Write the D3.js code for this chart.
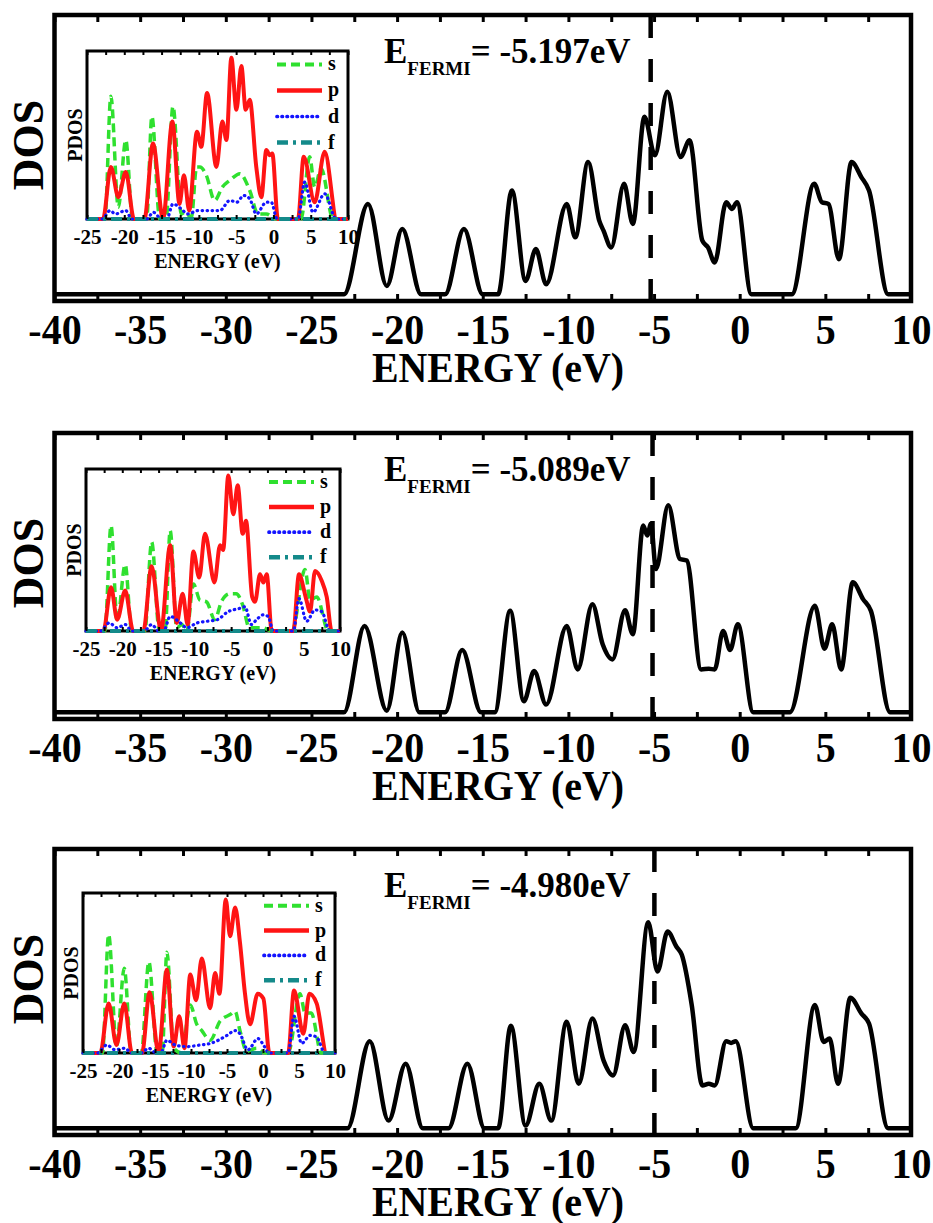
<!DOCTYPE html>
<html>
<head>
<meta charset="utf-8">
<script src="https://cdn.jsdelivr.net/npm/d3@7"></script>
<style>
  body { margin: 0; background: #fff; }
  svg text { font-family: "Liberation Serif", "Times New Roman", serif; font-weight: bold; fill: #000; }
</style>
</head>
<body>
<div id="chart"></div>
<script>
// Fermi levels of the three structures (eV)
const fermiLevels = [-5.197, -5.089, -4.980];

// total DOS, [energy (eV), DOS (a.u.)]
const dosTop = [[-40,0],[-23.1,0],[-21.7,27],[-20.6,2.5],[-19.7,19.5],[-18.6,0],[-17.2,0],[-16.1,19.5],[-15,0],[-14.1,0],[-13.3,31],[-12.5,4],[-11.9,13.5],[-11.3,3],[-10.1,27],[-9.6,17],[-8.85,39.5],[-8.2,22],[-7.95,19],[-7.5,14],[-6.75,33],[-6.24,21],[-5.56,53],[-4.95,41.5],[-4.23,60.5],[-3.45,41],[-2.93,46],[-2.18,16],[-1.85,14],[-1.46,9.5],[-0.79,27.5],[-0.45,25.5],[-0.16,27.5],[0.68,0],[3.04,0],[4.35,33],[4.8,27.5],[5.18,27],[5.79,10.5],[6.53,39.5],[7.1,35],[7.55,31],[8.67,0],[10,0]];
const dosMid = [[-40,0],[-23.1,0],[-21.9,25.8],[-20.6,0.5],[-19.7,23.8],[-18.7,0],[-17.2,0],[-16.2,18.6],[-15.1,0],[-14.3,0],[-13.4,30.3],[-12.6,3.3],[-12.0,12.3],[-11.3,2.3],[-10.1,25.8],[-9.46,12.8],[-8.6,32.3],[-8.0,20.3],[-7.43,15.8],[-6.69,30.5],[-6.24,23.3],[-5.63,55.8],[-5.4,52.8],[-5.18,56.3],[-4.89,42.8],[-4.17,61.8],[-3.49,45.8],[-3.09,45.3],[-2.25,12.8],[-1.8,13],[-1.46,12.8],[-0.97,24.3],[-0.56,18.6],[-0.11,26.3],[0.79,0],[2.93,0],[4.39,31.8],[4.95,19],[5.4,26.3],[5.92,12.8],[6.6,38.8],[7.2,33.8],[7.66,30.3],[8.78,0],[10,0]];
const dosBot = [[-40,0],[-22.9,0],[-21.6,26],[-20.5,2.3],[-19.5,19.3],[-18.5,0],[-17.0,0],[-15.9,19.3],[-14.9,0],[-14.1,0],[-13.36,30.6],[-12.5,0.8],[-11.7,13.3],[-11.0,2.3],[-10.1,31.8],[-9.4,13.3],[-8.6,32.8],[-7.95,20.3],[-7.39,15.8],[-6.69,30.8],[-6.19,22.8],[-5.34,61.5],[-4.8,46.8],[-4.21,58.8],[-3.7,54.3],[-3.38,51.8],[-2.8,36.8],[-2.18,12.8],[-1.8,13.3],[-1.46,12.8],[-0.79,26],[-0.5,25.5],[-0.23,26],[0.79,0],[3.27,0],[4.39,36.8],[4.9,25.8],[5.25,26.8],[5.74,13.3],[6.46,39],[7.1,34.3],[7.55,31.3],[8.67,0],[10,0]];

// partial DOS for the insets (s, p, d, f)
const sTop = [[-25,0],[-22.6,0],[-21.8,73],[-20.8,7],[-19.8,47],[-18.9,0],[-17.0,0],[-16.3,61],[-15.25,0],[-14.4,0],[-13.47,67],[-12.35,3],[-11.9,4],[-11.0,1],[-10.3,31],[-9.85,31],[-9.0,26],[-7.88,11],[-6.85,19],[-5.85,23],[-4.5,27],[-3.18,17],[-2.07,3],[-0.95,3],[0.4,0],[3.7,0],[4.86,37],[5.53,19],[6.4,30],[8.0,0],[10,0]];
const pTop = [[-25,0],[-22.85,0],[-21.8,31],[-20.8,13],[-19.8,28],[-18.7,0],[-17.3,0],[-16.15,45],[-14.8,0],[-13.55,58],[-12.6,9],[-12.0,26],[-11.3,5],[-10.25,52],[-9.67,43],[-8.9,75],[-7.65,31],[-6.85,58],[-6.3,47],[-5.64,96],[-4.97,65],[-4.3,91],[-3.72,65],[-3.18,71],[-2.3,31],[-1.62,13],[-0.95,41],[-0.5,38],[-0.15,39],[0.6,0],[3.3,0],[4.06,37],[5.53,10],[6.87,40],[8.5,0],[10,0]];
const dTop = [[-25,0],[-23,0],[-21.9,5],[-21.2,3],[-19.8,5],[-19.0,0],[-17.0,0],[-16.1,4],[-15.0,0],[-14.3,0],[-13.47,9],[-12.35,6],[-11.5,3],[-10.1,5],[-8.5,5],[-7.2,5],[-5.85,11],[-4.9,10],[-4.0,14],[-3.18,12],[-2.3,3],[-0.95,10],[-0.3,10],[0.5,0],[3.3,0],[4.2,22],[5.3,4],[6.87,15],[8.4,0],[10,0]];
const fTop = [[-25,0],[10,0]];

const sMid = [[-25,0],[-22.4,0],[-21.55,65],[-20.7,6],[-19.6,41],[-18.7,0],[-16.9,0],[-15.95,55],[-14.9,0],[-14.1,0],[-13.4,62],[-12.5,2],[-11.8,4],[-11.1,0],[-10.2,29],[-9.3,19],[-8.4,18],[-7.25,7],[-6.35,18],[-5.2,23],[-4.3,23],[-3.4,16],[-2.5,2],[-0.6,2],[0.5,0],[3.4,0],[5.18,38],[5.87,19],[6.8,21],[8.4,0],[10,0]];
const pMid = [[-25,0],[-22.6,0],[-21.55,27],[-20.7,7],[-19.6,25],[-18.5,0],[-17.1,0],[-15.95,40],[-14.66,0],[-13.4,53],[-12.5,5],[-11.68,23],[-11.0,4],[-10.2,49],[-9.4,33],[-8.6,60],[-7.3,30],[-6.53,53],[-6.1,50],[-5.39,96],[-4.7,72],[-4.1,90],[-3.41,60],[-2.95,68],[-2.1,21],[-1.71,18],[-1.02,35],[-0.56,30],[-0.1,35],[0.59,0],[3.57,0],[4.35,35],[5.32,20],[5.87,12],[6.56,37],[7.48,31],[8.17,21],[8.85,0],[10,0]];
const dMid = [[-25,0],[-23,0],[-21.8,5],[-20.7,2],[-19.6,4],[-18.7,0],[-17,0],[-15.95,4],[-15,0],[-14.3,0],[-13.4,9],[-12.0,5],[-11.1,2],[-9.7,5],[-8.3,6],[-6.9,7],[-5.4,12],[-3.8,14],[-3.1,15],[-2.2,4],[-1.5,7],[-0.56,10],[0.1,9],[0.8,0],[3.57,0],[4.35,20],[5.4,6],[6.56,13],[7.48,12],[8.6,0],[10,0]];
const fMid = [[-25,0],[10,0]];

const sBot = [[-25,0],[-22.3,0],[-21.44,74],[-20.35,4],[-19.27,53],[-18.3,0],[-16.9,0],[-15.85,57],[-14.7,0],[-14.0,0],[-13.35,63],[-12.4,3],[-11.3,0],[-10.1,30],[-9.2,18],[-8.5,14],[-7.35,8],[-5.95,20],[-4.57,24],[-3.87,26],[-3.2,14],[-2.25,1],[-0.9,3],[0.3,0],[3.5,0],[5.14,37],[5.85,25],[6.7,25],[8.1,0],[10,0]];
const pBot = [[-25,0],[-22.6,0],[-21.44,31],[-20.35,5],[-19.27,31],[-18.2,0],[-16.8,0],[-15.75,38],[-14.5,0],[-13.35,52],[-12.4,4],[-11.64,23],[-10.9,3],[-10.1,49],[-9.3,33],[-8.5,59],[-7.35,28],[-6.65,50],[-6.05,37],[-5.17,96],[-4.57,73],[-3.87,91],[-3.2,69],[-2.5,37],[-1.8,18],[-0.73,37],[0.05,34],[0.89,0],[3.5,0],[4.31,39],[5.6,12],[6.44,37],[7.45,31],[8.85,0],[10,0]];
const dBot = [[-25,0],[-23,0],[-21.7,5],[-20.55,2],[-19.15,3],[-18.3,0],[-16.9,0],[-15.9,3],[-14.8,0],[-14.2,0],[-13.35,8],[-12.2,5],[-10.6,4],[-8.7,5],[-7.3,6],[-5.0,11],[-3.87,14],[-3.2,12],[-2.1,2],[-0.7,9],[0.2,4],[0.8,0],[3.5,0],[4.31,23],[5.36,6],[6.56,11],[7.45,10],[8.6,0],[10,0]];
const fBot = [[-25,0],[10,0]];

const orbitals = ["s", "p", "d", "f"];
const mainTicks = d3.range(-40, 10.01, 2.5);
const mainTickLabels = [-40, -35, -30, -25, -20, -15, -10, -5, 0, 5, 10];
const insetTicks = d3.range(-25, 10.01, 2.5);
const insetTickLabels = [-25, -20, -15, -10, -5, 0, 5, 10];

// layout
const frameL = 54.5, frameR = 911, frameH = 286;
const panels = [
  { top: 15,  dos: dosTop, fermi: fermiLevels[0], pdos: [sTop, pTop, dTop, fTop], inset: { x: 87, y: 51,  w: 261, h: 168 } },
  { top: 433, dos: dosMid, fermi: fermiLevels[1], pdos: [sMid, pMid, dMid, fMid], inset: { x: 86, y: 469, w: 254, h: 162 } },
  { top: 849, dos: dosBot, fermi: fermiLevels[2], pdos: [sBot, pBot, dBot, fBot], inset: { x: 83, y: 893, w: 252, h: 160 } }
];

const orbitalStyle = {
  s: { color: "#2fe02f", width: 3.5, dash: "9,5", cap: "butt" },
  p: { color: "#ff1414", width: 4, dash: null, cap: "butt" },
  d: { color: "#1414ff", width: 3.2, dash: "0.5,4.5", cap: "round" },
  f: { color: "#148a8a", width: 4, dash: "11,5,3,5", cap: "butt" }
};

const svg = d3.select("#chart").append("svg")
  .attr("width", 933)
  .attr("height", 1223);

const x = d3.scaleLinear().domain([-40, 10]).range([frameL, frameR]);

panels.forEach(pn => {
  const g = svg.append("g");
  const bottom = pn.top + frameH;
  const y = d3.scaleLinear().domain([-2, 83.4]).range([bottom, pn.top]);

  // ticks (inward, top and bottom)
  const axB = g.append("g")
    .attr("transform", `translate(0,${bottom})`)
    .call(d3.axisBottom(x).tickValues(mainTicks).tickSize(-7)
      .tickFormat(d => mainTickLabels.includes(d) ? String(d) : ""));
  axB.select(".domain").remove();
  axB.selectAll("line").attr("stroke", "#000").attr("stroke-width", 3);
  axB.selectAll("text")
    .attr("y", 43).attr("dy", null)
    .attr("transform", "scale(0.93,1)")
    .style("font-size", "43px");

  const axT = g.append("g")
    .attr("transform", `translate(0,${pn.top})`)
    .call(d3.axisTop(x).tickValues(mainTicks).tickSize(-7).tickFormat(""));
  axT.select(".domain").remove();
  axT.selectAll("line").attr("stroke", "#000").attr("stroke-width", 3);

  // total DOS curve
  const line = d3.line()
    .x(d => x(d[0]))
    .y(d => y(d[1]))
    .curve(d3.curveMonotoneX);
  g.append("path")
    .datum(pn.dos)
    .attr("d", line)
    .attr("fill", "none")
    .attr("stroke", "#000")
    .attr("stroke-width", 4.5)
    .attr("stroke-linejoin", "round");

  // Fermi level
  g.append("line")
    .attr("x1", x(pn.fermi)).attr("x2", x(pn.fermi))
    .attr("y1", pn.top).attr("y2", bottom)
    .attr("stroke", "#000")
    .attr("stroke-width", 4.5)
    .attr("stroke-dasharray", "23,21");

  // frame
  g.append("rect")
    .attr("x", frameL).attr("y", pn.top)
    .attr("width", frameR - frameL).attr("height", frameH)
    .attr("fill", "none")
    .attr("stroke", "#000")
    .attr("stroke-width", 4.5);

  // labels
  g.append("text")
    .attr("transform", `translate(498,${bottom + 81}) scale(0.95,1)`)
    .attr("text-anchor", "middle")
    .style("font-size", "42px")
    .text("ENERGY (eV)");

  g.append("text")
    .attr("transform", `translate(43,${pn.top + 130}) rotate(-90)`)
    .attr("text-anchor", "middle")
    .style("font-size", "44px")
    .text("DOS");

  const ef = g.append("text")
    .attr("x", 384).attr("y", pn.top + 48);
  ef.append("tspan").style("font-size", "35px").text("E");
  ef.append("tspan").style("font-size", "19px").attr("dy", 12).text("FERMI");
  ef.append("tspan").style("font-size", "35px").attr("dy", -12).text(`= ${pn.fermi.toFixed(3)}eV`);

  // inset PDOS
  const ins = pn.inset;
  const xi = d3.scaleLinear().domain([-25, 10]).range([ins.x, ins.x + ins.w]);
  const yi = d3.scaleLinear().domain([0, 100]).range([ins.y + ins.h, ins.y]);
  const gi = g.append("g");

  gi.append("rect")
    .attr("x", ins.x).attr("y", ins.y)
    .attr("width", ins.w).attr("height", ins.h)
    .attr("fill", "#fff")
    .attr("stroke", "#000")
    .attr("stroke-width", 3);

  const lineI = d3.line()
    .x(d => xi(d[0]))
    .y(d => yi(d[1]))
    .curve(d3.curveMonotoneX);

  orbitals.forEach((o, i) => {
    const st = orbitalStyle[o];
    gi.append("path")
      .datum(pn.pdos[i])
      .attr("d", lineI)
      .attr("fill", "none")
      .attr("stroke", st.color)
      .attr("stroke-width", st.width)
      .attr("stroke-dasharray", st.dash)
      .attr("stroke-linecap", st.cap);

    // legend
    const ly = ins.y + ins.h * 0.08 + i * ins.h * 0.155;
    const right = ins.x + ins.w;
    gi.append("line")
      .attr("x1", right - 71).attr("x2", right - 26)
      .attr("y1", ly).attr("y2", ly)
      .attr("stroke", st.color)
      .attr("stroke-width", st.width + 0.5)
      .attr("stroke-dasharray", st.dash)
      .attr("stroke-linecap", st.cap);
    gi.append("text")
      .attr("x", right - 20).attr("y", ly + 6)
      .style("font-size", "20px")
      .text(o);
  });

  const aiB = gi.append("g")
    .attr("transform", `translate(0,${ins.y + ins.h})`)
    .call(d3.axisBottom(xi).tickValues(insetTicks).tickSize(-4)
      .tickFormat(d => insetTickLabels.includes(d) ? String(d) : ""));
  aiB.select(".domain").remove();
  aiB.selectAll("line").attr("stroke", "#000").attr("stroke-width", 2);
  aiB.selectAll("text")
    .attr("y", 25).attr("dy", null)
    .style("font-size", "21px");

  const aiT = gi.append("g")
    .attr("transform", `translate(0,${ins.y})`)
    .call(d3.axisTop(xi).tickValues(insetTicks).tickSize(-4).tickFormat(""));
  aiT.select(".domain").remove();
  aiT.selectAll("line").attr("stroke", "#000").attr("stroke-width", 2);

  gi.append("text")
    .attr("x", ins.x + ins.w / 2).attr("y", ins.y + ins.h + 49)
    .attr("text-anchor", "middle")
    .style("font-size", "20px")
    .text("ENERGY (eV)");

  gi.append("text")
    .attr("transform", `translate(${ins.x - 5},${ins.y + ins.h / 2}) rotate(-90)`)
    .attr("text-anchor", "middle")
    .style("font-size", "20px")
    .text("PDOS");
});
</script>
</body>
</html>
